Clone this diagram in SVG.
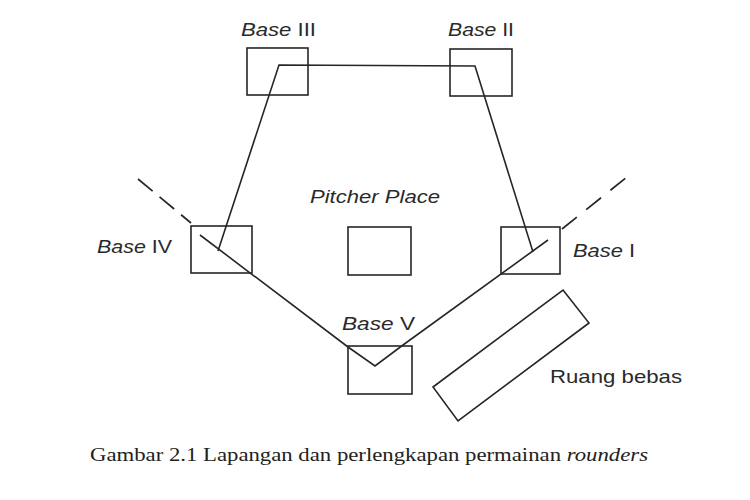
<svg xmlns="http://www.w3.org/2000/svg" width="750" height="500" viewBox="0 0 750 500">
<style>
.box{fill:none;stroke:#262626;stroke-width:1.6}
.ln{fill:none;stroke:#262626;stroke-width:1.6;stroke-linejoin:miter}
.dash{fill:none;stroke:#262626;stroke-width:1.7}
.lbl{font-family:"Liberation Sans",Arial,sans-serif;font-size:19px;fill:#2a2a2a}
.it{font-style:italic}
.cap{font-family:"Liberation Serif","Times New Roman",serif;font-size:19px;fill:#222}
</style>
<rect width="750" height="500" fill="#fff"/>
<g id="connectors">
<polyline class="ln" points="218,251 279,65 475,66 533,252"/>
<polyline class="ln" points="200,235 348,347 375,366 403,345 548,240"/>
<line class="dash" x1="138" y1="179" x2="191" y2="223" stroke-dasharray="19 9"/>
<line class="dash" x1="562" y1="229" x2="627" y2="177" stroke-dasharray="19 12"/>
</g>
<g id="base-iii">
<rect class="box" x="247" y="48" width="61" height="47"/>
<text class="lbl" x="241" y="36" textLength="75" lengthAdjust="spacingAndGlyphs"><tspan class="it">Base</tspan> III</text>
</g>
<g id="base-ii">
<rect class="box" x="450" y="49" width="62" height="47"/>
<text class="lbl" x="448" y="36" textLength="66" lengthAdjust="spacingAndGlyphs"><tspan class="it">Base</tspan> II</text>
</g>
<g id="base-iv">
<rect class="box" x="191" y="226" width="61" height="47"/>
<text class="lbl" x="97" y="253" textLength="75" lengthAdjust="spacingAndGlyphs"><tspan class="it">Base</tspan> IV</text>
</g>
<g id="base-i">
<rect class="box" x="501" y="227" width="59" height="47"/>
<text class="lbl" x="573" y="257" textLength="62" lengthAdjust="spacingAndGlyphs"><tspan class="it">Base</tspan> I</text>
</g>
<g id="base-v">
<rect class="box" x="348" y="346" width="64" height="48"/>
<text class="lbl" x="342" y="330" textLength="73" lengthAdjust="spacingAndGlyphs"><tspan class="it">Base</tspan> V</text>
</g>
<g id="pitcher-place">
<rect class="box" x="348" y="227" width="63" height="48"/>
<text class="lbl it" x="310" y="203" textLength="130" lengthAdjust="spacingAndGlyphs">Pitcher Place</text>
</g>
<g id="ruang-bebas">
<polygon class="box" points="563,290 589,323 458,421 433,387"/>
<text class="lbl" x="550" y="383" textLength="132" lengthAdjust="spacingAndGlyphs">Ruang bebas</text>
</g>
<text class="cap" x="90" y="461" textLength="558" lengthAdjust="spacingAndGlyphs">Gambar 2.1 Lapangan dan perlengkapan permainan <tspan font-style="italic">rounders</tspan></text>
</svg>
